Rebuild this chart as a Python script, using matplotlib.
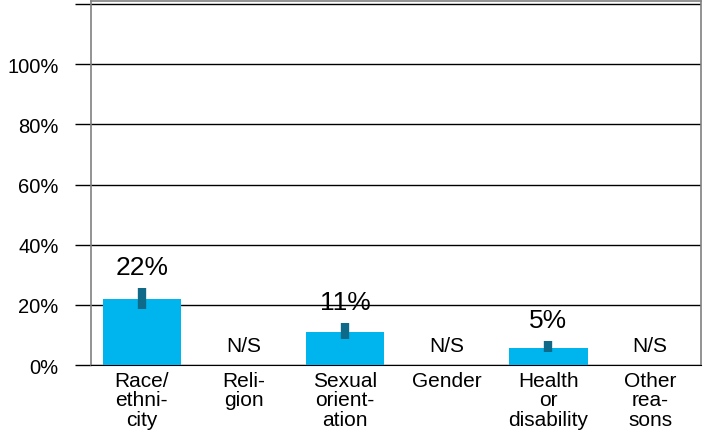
import numpy as np
import matplotlib.pyplot as plt

plt.rcParams['font.family'] = ['Liberation Sans', 'DejaVu Sans']

categories = ["Race/\nethni-\ncity", "Reli-\ngion", "Sexual\norient-\nation",
              "Gender", "Health\nor\ndisability", "Other\nrea-\nsons"]
values = [22, None, 11, None, 5.5, None]
value_labels = ["22%", "N/S", "11%", "N/S", "5%", "N/S"]
err_low = [18.5, None, 8.6, None, 4.3, None]
err_high = [25.6, None, 14.0, None, 8.0, None]

fig = plt.figure(figsize=(7.04, 4.35), dpi=100)
ax = fig.add_axes([0.1293, 0.1586, 0.8664, 0.8368])

x = np.arange(len(categories))
heights = [v if v is not None else 0 for v in values]
ax.bar(x, heights, width=0.77, color="#00B4EE", zorder=3)

for i, v in enumerate(values):
    if v is None:
        ax.text(x[i], 6.5, value_labels[i], ha="center", va="center", fontsize=15)
        continue
    ax.vlines(x[i], err_low[i], err_high[i], color="#0E6A88", lw=6, zorder=4)
    ax.text(x[i], err_high[i] + 7, value_labels[i], ha="center", va="center",
            fontsize=19)

ax.set_xlim(-0.5, len(categories) - 0.5)
ax.set_ylim(0, 121)
ax.set_yticks([0, 20, 40, 60, 80, 100, 120])
ax.set_yticklabels(["0%", "20%", "40%", "60%", "80%", "100%", ""])
ax.yaxis.grid(True, color="black", lw=1, zorder=0)
ax.tick_params(axis="y", length=11.5, width=1, color="black", pad=12, labelsize=14.5)
ax.set_xticks(x)
ax.set_xticklabels(categories, fontsize=15, linespacing=1.05)
ax.tick_params(axis="x", length=0, pad=4)

for s in ["left", "top", "right"]:
    ax.spines[s].set_color("#808080")
    ax.spines[s].set_linewidth(1.2)
ax.spines["bottom"].set_color("black")

fig.savefig("out.png", dpi=100)
